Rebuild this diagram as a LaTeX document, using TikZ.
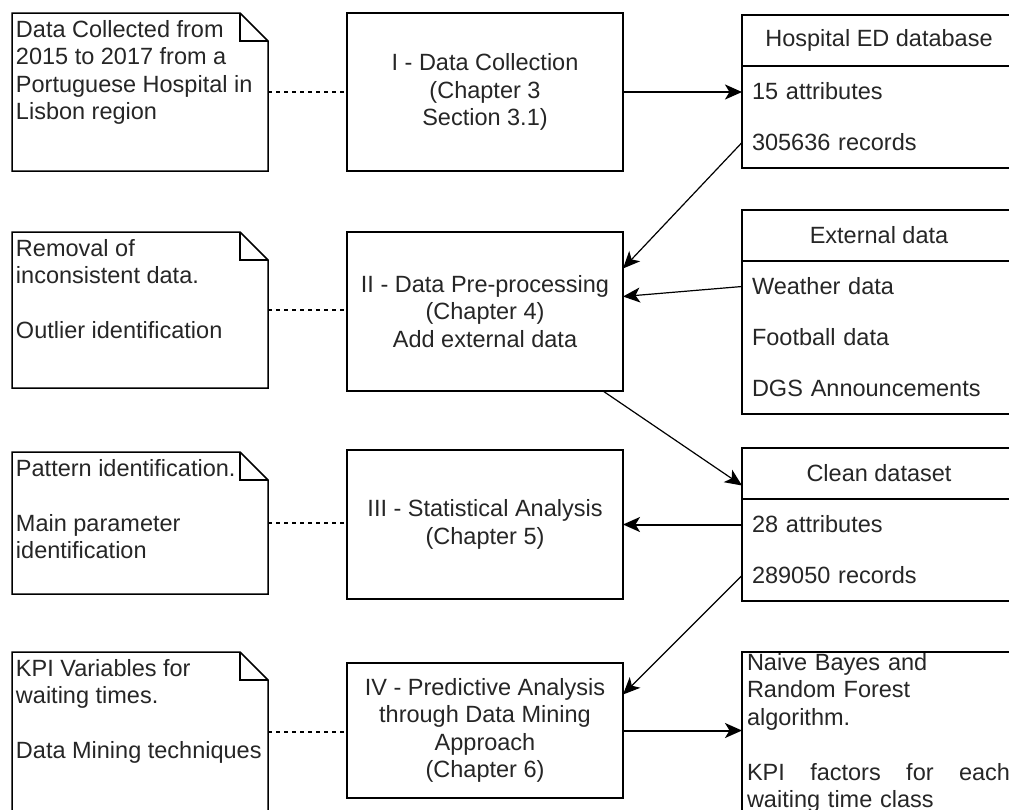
\documentclass[tikz,border=0pt]{standalone}
\usepackage{fontspec}
\setmainfont{Liberation Sans}
\usetikzlibrary{arrows.meta,calc}
\newcommand\dfont{\fontsize{23.5pt}{27.5pt}\selectfont}
\begin{document}
\begin{tikzpicture}[x=1pt,y=-1pt,
  every node/.style={font=\dfont, text=black!85, outer sep=0pt},
  proc/.style={draw, line width=1.5pt, minimum width=276pt, align=center, inner sep=0pt},
  notebox/.style={minimum width=256pt, inner sep=0pt},
  noteline/.style={line width=1.5pt, line join=miter},
  notetext/.style={anchor=north west, align=left, inner sep=0pt},
  hdr/.style={draw, line width=1.5pt, minimum width=274pt, minimum height=51pt, inner sep=0pt},
  row/.style={anchor=north west, text width=254pt, inner xsep=10pt, inner ysep=0pt, minimum height=51pt, align=left},
  arr/.style={-{Stealth[length=17pt,width=15pt,inset=4.5pt]}, line width=2pt},
  darr/.style={-{Stealth[length=17pt,width=15pt,inset=4.5pt]}, line width=1.2pt},
  dashline/.style={line width=1.2pt, dash pattern=on 4pt off 4pt},
]
\clip (0,0) rectangle (1009,809);
\fill[white] (0,0) rectangle (1009,809);

% process boxes
\node[proc, minimum height=158pt] (b1) at (485,92) {I - Data Collection\\(Chapter 3\\Section 3.1)};
\node[proc, minimum height=159pt] (b2) at (485,311.5) {II - Data Pre-processing\\(Chapter 4)\\Add external data};
\node[proc, minimum height=149pt] (b3) at (485,524.5) {III - Statistical Analysis\\(Chapter 5)};
\node[proc, minimum height=135pt] (b4) at (485,730.5) {IV - Predictive Analysis\\through Data Mining\\Approach\\(Chapter 6)};

% notes
\node[notebox, minimum height=158pt] (n1) at (140,92) {};
\node[notebox, minimum height=156pt] (n2) at (140,310) {};
\node[notebox, minimum height=142pt] (n3) at (140,523) {};
\node[notebox, minimum height=160pt] (n4) at (140,732) {};
\foreach \n in {n1,n2,n3,n4}{
  \draw[noteline] (\n.north west) -- ([xshift=-28pt]\n.north east) -- ([yshift=-28pt]\n.north east) -- (\n.south east) -- (\n.south west) -- cycle;
  \draw[noteline] ([xshift=-28pt]\n.north east) -- ([xshift=-28pt,yshift=-28pt]\n.north east) -- ([yshift=-28pt]\n.north east);
}
\node[notetext] (t1) at ([xshift=4pt,yshift=-5pt]n1.north west) {\strut Data Collected from\\2015 to 2017 from a\\Portuguese Hospital in\\Lisbon region};
\node[notetext] (t2) at ([xshift=4pt,yshift=-5pt]n2.north west) {\strut Removal of\\inconsistent data.\\[27.5pt]Outlier identification};
\node[notetext] (t3) at ([xshift=4pt,yshift=-5pt]n3.north west) {\strut Pattern identification.\\[27.5pt]Main parameter\\identification};
\node[notetext] (t4) at ([xshift=4pt,yshift=-5pt]n4.north west) {\strut KPI Variables for\\waiting times.\\[27.5pt]Data Mining techniques};

% Hospital ED database
\node[hdr] (hh) at (879,40.5) {Hospital ED database};
\node[row] (h1) at (hh.south west) {15 attributes};
\node[row] (h2) at (h1.south west) {305636 records};
\draw[line width=1.5pt] (hh.north west) rectangle (h2.south east);

% External data
\node[hdr] (eh) at (879,235.5) {External data};
\node[row] (e1) at (eh.south west) {Weather data};
\node[row] (e2) at (e1.south west) {Football data};
\node[row] (e3) at (e2.south west) {DGS Announcements};
\draw[line width=1.5pt] (eh.north west) rectangle (e3.south east);

% Clean dataset
\node[hdr] (ch) at (879,473.5) {Clean dataset};
\node[row] (c1) at (ch.south west) {28 attributes};
\node[row] (c2) at (c1.south west) {289050 records};
\draw[line width=1.5pt] (ch.north west) rectangle (c2.south east);

% Results box
\node[draw, line width=1.5pt, minimum width=274pt, minimum height=190pt, inner sep=0pt, anchor=north west] (nb) at (742,652) {};
\node[notetext, text width=265pt] (nt) at (747,651) {\strut Naive Bayes and\\Random Forest\\algorithm.\\[27.5pt]\makebox[263pt][l]{KPI\hfill factors\hfill for\hfill each}\\waiting time class};

% dashed links
\draw[dashline] (n1.east) -- (n1.east -| b1.west);
\draw[dashline] (n2.east) -- (n2.east -| b2.west);
\draw[dashline] (n3.east) -- (n3.east -| b3.west);
\draw[dashline] (n4.east) -- (n4.east -| b4.west);

% arrows
\draw[arr] (b1.east) -- (b1.east -| h1.west);
\draw[darr] (h2.west) -- ([yshift=43pt]b2.east);
\draw[darr] (e1.west) -- ([yshift=15pt]b2.east);
\draw[darr] ([xshift=-20pt]b2.south east) -- ([yshift=-12pt]ch.west);
\draw[arr] (c1.west) -- (c1.west -| b3.east);
\draw[darr] (c2.west) -- ([yshift=36pt]b4.east);
\draw[arr] (b4.east) -- (b4.east -| nb.west);
\end{tikzpicture}
\end{document}
